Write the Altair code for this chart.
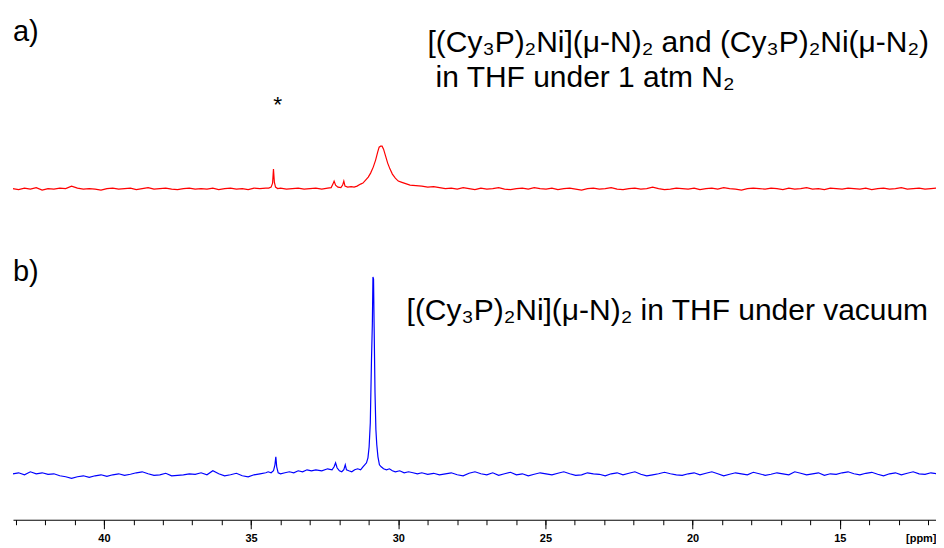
import altair as alt
import numpy as np
import pandas as pd

# ---------------- data (intensities, arbitrary units) ----------------
# red trace a): baseline left of 34.5 ppm, peak region, baseline right of 28.4 ppm
red_left = [0.5, -0.5, 1, 0, 1.5, -1, 0.5, 0, 1, 0.5,
            3, 1, 0, 0.5, 0, -1, 0.5, 1, 0, 0.5,
            1, -0.5, 0.5, 1.5, 0, 0.5, 1, 0, -0.5, 0.5,
            1, 0, 0.5, 0, 1, -0.5, 0.5, 1, 0, 0.5,
            -0.5, 1, 0.5, 1]
red_peak_ppm = [34.40, 34.32, 34.27, 34.24, 34.21, 34.17, 34.10, 34.0, 33.8, 33.6,
                33.4, 33.2, 33.0, 32.8, 32.6, 32.4, 32.28, 32.22, 32.18, 32.13,
                32.05, 31.95, 31.89, 31.85, 31.81, 31.72, 31.6, 31.5, 31.4, 31.28,
                31.2, 31.11, 31.02, 30.94, 30.85, 30.77, 30.70, 30.65, 30.60, 30.55,
                30.50, 30.43, 30.36, 30.28, 30.20, 30.10, 30.0, 29.9, 29.8, 29.6,
                29.4, 29.2, 29.0, 28.8, 28.6]
red_peak_int = [1, 2, 6, 20, 7, 2, 0.5, 1, 0, 0.5,
                1, 0, 0.5, 1, 0, 1, 1.5, 5, 8, 4,
                2, 1.5, 4, 8, 3, 2, 2.5, 2, 3, 5,
                6, 9, 12, 16, 22, 29, 37, 42, 43, 43,
                40, 33, 26, 20, 15, 11, 8, 7, 6, 4,
                3.5, 3, 2, 2.5, 1.5]
red_right = [0.5, 1, 0, 1.5, 0.5, -0.5, 1, 0, 0.5, 1.5,
             0, -0.5, 0.5, 1, 0, 1.5, 0.5, 0, 1, -0.5,
             0.5, 1, 0, -1, 0.5, 1, 0, 0.5, 1.5, 0,
             -0.5, 0.5, 1, 0, 0.5, 2, 0.5, -0.5, 0, 1,
             0.5, 0, 1, -0.5, 0.5, 1, 0, 1.5, 0.5, 0,
             -1, 0.5, 1, 0.5, 0, 1, 0.5, -0.5, 1, 0,
             0.5, 1.5, 0, 0.5, -0.5, 1, 0.5, 0, 1, 0.5,
             0, 1, -0.5, 0.5, 1, 0, 0.5, 1.5, 0, 0.5,
             1, 0, 0.5, 1]

# blue trace b)
blue_left = [1, 2, 0, 3, 1, 2, 0.5, 1, -1, -2,
             -3.5, -2, -1, -2.5, -1, 0, -1.5, 0, 1, -0.5,
             0.5, 2, 3, 1, -0.5, 0, 1.5, -1, -0.5, 0,
             1, 0.5, 2, 0, 4, 1, -1, 0, 1.5, -1,
             -2, 0, 1, 2]
blue_peak_ppm = [34.42, 34.32, 34.24, 34.19, 34.16, 34.13, 34.08, 34.0, 33.85, 33.7,
                 33.55, 33.4, 33.25, 33.1, 32.95, 32.8, 32.6, 32.4, 32.25, 32.18,
                 32.13, 32.08, 32.0, 31.92, 31.85, 31.80, 31.76, 31.68, 31.58, 31.48,
                 31.38, 31.28, 31.2, 31.14, 31.08, 31.03, 30.99, 30.95, 30.91, 30.88,
                 30.86, 30.84, 30.82, 30.79, 30.76, 30.73, 30.69, 30.64, 30.58, 30.50,
                 30.40, 30.30, 30.2, 30.1, 29.95, 29.8, 29.65, 29.5, 29.35, 29.2,
                 29.0, 28.8, 28.6]
blue_peak_int = [3, 2, 4, 10, 18, 8, 2, 1, 2, 3,
                 2, 4, 3, 5, 4, 5, 4, 6, 5, 8,
                 12, 7, 4, 3, 5, 10, 5, 4, 3, 5,
                 6, 5, 8, 10, 12, 17, 28, 52, 115, 152,
                 198, 196, 148, 82, 45, 30, 18, 10, 8, 6,
                 5, 6, 4, 3, 4, 2, 3, 2, 1, 2,
                 0.5, 1.5, 0]
blue_right = [1, 2, 0, -1, 1.5, 3, 1, 0, 2, -0.5,
              1, 2.5, 0, 1, -1, 0.5, 2, 1, 0, 1.5,
              3, 1, -0.5, 0, 2, 1, 0.5, -1, 1, 2,
              0, 1.5, 3, 0.5, -1, 0, 1, 2.5, 1, 0,
              -0.5, 1, 2, 0, 1.5, 3, 1, -1, 0.5, 2,
              1, 0, 2.5, 1, -0.5, 0.5, 2, 1, 0, 3,
              1.5, 0, 1, 2, -0.5, 1, 0.5, 2, 3, 1,
              0, 1.5, 2.5, 0.5, -1, 1, 2, 0, 1.5, 3,
              1, 0.5, 2, 1]

major_ticks = [40, 35, 30, 25, 20, 15]
minor_ticks = list(range(12, 44))

label_a = "a)"
label_b = "b)"
red_text_1 = "[(Cy₃P)₂Ni](μ-N)₂ and (Cy₃P)₂Ni(μ-N₂)"
red_text_2 = "in THF under 1 atm N₂"
blue_text = "[(Cy₃P)₂Ni](μ-N)₂ in THF under vacuum"
star = "*"


def trace(left, peak_ppm, peak_int, right):
    ppm = list(np.linspace(43.1, 34.5, len(left))) + peak_ppm + list(np.linspace(28.4, 11.7, len(right)))
    return pd.DataFrame({"ppm": ppm, "intensity": left + peak_int + right})


red_df = trace(red_left, red_peak_ppm, red_peak_int, red_right)
blue_df = trace(blue_left, blue_peak_ppm, blue_peak_int, blue_right)

W = 924
H_TOP = 232
H_BOT = 280
FONT = "Liberation Sans, Arial, sans-serif"

xscale = alt.Scale(domain=[11.73, 43.09], reverse=True, nice=False, zero=False)


def label(text, x, y, size, align="left"):
    return alt.Chart(pd.DataFrame({"t": [text]})).mark_text(
        align=align, baseline="alphabetic", fontSize=size, font=FONT, color="black"
    ).encode(x=alt.value(x), y=alt.value(y), text="t:N")


red_line = alt.Chart(red_df).mark_line(color="#ff0000", strokeWidth=1.2, clip=True).encode(
    x=alt.X("ppm:Q", scale=xscale, axis=None),
    y=alt.Y("intensity:Q", scale=alt.Scale(domain=[-51, 181], nice=False, zero=False), axis=None),
)

top = alt.layer(
    red_line,
    label(label_a, 0, 33, 29),
    label(red_text_1, 415, 44, 30),
    label(red_text_2, 423, 79, 30),
    label(star, 265, 104, 23, align="center"),
).properties(width=W, height=H_TOP)

blue_line = alt.Chart(blue_df).mark_line(color="#0000ff", strokeWidth=1.2, clip=True).encode(
    x=alt.X(
        "ppm:Q",
        scale=xscale,
        axis=alt.Axis(
            values=major_ticks, tickSize=9, tickColor="black", tickWidth=1,
            domainColor="black", domainWidth=1, grid=False,
            labelFont="Liberation Sans Narrow, Liberation Sans, Arial, sans-serif",
            labelFontSize=11, labelFontWeight="bold", labelColor="black", labelPadding=4,
            labelFlush=False,
            title="[ppm]", titleFont="Liberation Sans Narrow, Liberation Sans, Arial, sans-serif",
            titleFontSize=11, titleFontWeight="bold", titleColor="black",
            titleAnchor="end", titleAlign="right", titleBaseline="top", titleX=W, titleY=13,
            orient="bottom",
        ),
    ),
    y=alt.Y("intensity:Q", scale=alt.Scale(domain=[-45, 235], nice=False, zero=False), axis=None),
)

minor_layer = alt.Chart(pd.DataFrame({"ppm": minor_ticks})).mark_point(opacity=0).encode(
    x=alt.X(
        "ppm:Q",
        scale=xscale,
        axis=alt.Axis(values=minor_ticks, tickSize=5, tickColor="black", labels=False,
                      domain=False, grid=False, title="", orient="bottom"),
    )
)

bottom = alt.layer(
    blue_line,
    minor_layer,
    label(label_b, 0, 41, 29),
    label(blue_text, 394, 80, 30),
).resolve_axis(x="independent").properties(width=W, height=H_BOT)

chart = alt.vconcat(top, bottom, spacing=0).properties(
    padding={"left": 4, "top": 0, "right": 0, "bottom": 0},
    background="white",
).configure_view(strokeWidth=0)

chart.save("out.html", embed_options={"renderer": "svg", "actions": False})
